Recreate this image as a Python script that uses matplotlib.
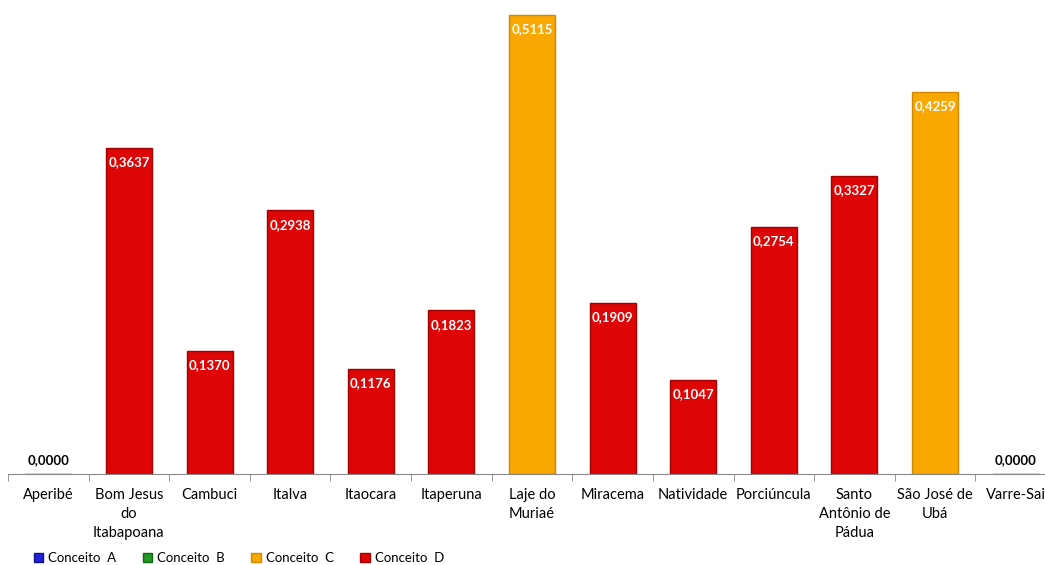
import matplotlib.pyplot as plt
import numpy as np
from matplotlib.patches import Patch

plt.rcParams['font.family'] = ['Lato', 'DejaVu Sans']

cities = ['Aperibé', 'Bom Jesus\ndo\nItabapoana', 'Cambuci', 'Italva', 'Itaocara',
          'Itaperuna', 'Laje do\nMuriaé', 'Miracema', 'Natividade', 'Porciúncula',
          'Santo\nAntônio de\nPádua', 'São José de\nUbá', 'Varre-Sai']
values = [0.0, 0.3637, 0.1370, 0.2938, 0.1176, 0.1823, 0.5115, 0.1909,
          0.1047, 0.2754, 0.3327, 0.4259, 0.0]
concept = ['D', 'D', 'D', 'D', 'D', 'D', 'C', 'D', 'D', 'D', 'D', 'C', 'D']

colors = {'A': '#2222dd', 'B': '#229922', 'C': '#f8a800', 'D': '#dd0505'}
edges = {'A': '#111188', 'B': '#116611', 'C': '#d08800', 'D': '#a00000'}

W, H = 1045, 565
fig = plt.figure(figsize=(W / 100, H / 100), dpi=100)
ax = fig.add_axes([8 / W, 91 / H, 1048 / W, 474 / H])

x = np.arange(len(cities))
ax.bar(x, values, width=0.57, color=[colors[c] for c in concept],
       edgecolor=[edges[c] for c in concept], linewidth=1.0)

for xi, v in zip(x, values):
    lab = ('%.4f' % v).replace('.', ',')
    if v > 0:
        ax.text(xi, v - 0.016, lab, ha='center', va='center', color='white',
                fontsize=9.5, fontweight='bold')
    else:
        ax.text(xi, 0.016, lab, ha='center', va='center', color='black',
                fontsize=9.5, fontweight='bold')

ax.set_xlim(-0.5, 12.5)
ax.set_ylim(0, 474 / 897)
ax.set_xticks(x)
ax.set_xticklabels(cities, fontsize=10.5, linespacing=1.45)
ax.tick_params(axis='x', which='major', length=0, pad=10)
ax.set_xticks(np.arange(-0.5, 12.6, 1), minor=True)
ax.tick_params(axis='x', which='minor', length=5, color='#888888')
ax.set_yticks([])
for s in ['top', 'right', 'left']:
    ax.spines[s].set_visible(False)
ax.spines['bottom'].set_color('#888888')

handles = [Patch(facecolor=colors[k], edgecolor=edges[k], label='Conceito  ' + k)
           for k in ['A', 'B', 'C', 'D']]
fig.legend(handles=handles, loc='lower left', bbox_to_anchor=(22 / W, -0.02),
           ncol=4, frameon=False, fontsize=9.5, handlelength=0.7, handleheight=0.7,
           handletextpad=0.4, columnspacing=2.0)

fig.savefig('out.png', dpi=100)
